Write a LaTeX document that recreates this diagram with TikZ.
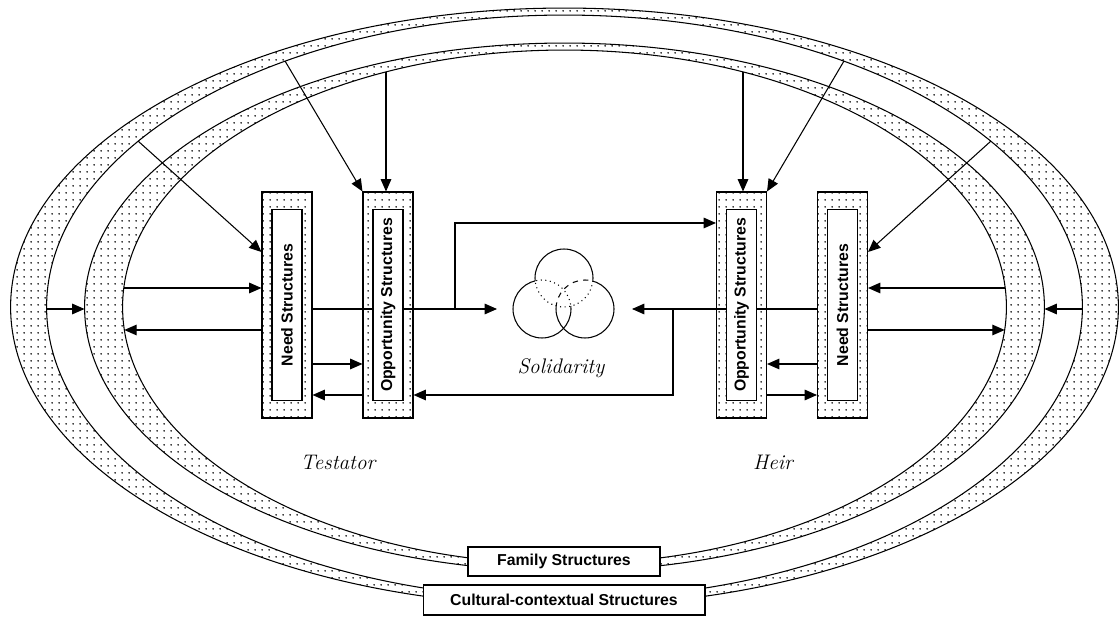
\documentclass[tikz,border=0pt]{standalone}
\usepackage{fontspec}
\newfontfamily\structfont{Liberation Sans}
\usetikzlibrary{arrows.meta,patterns}

\pgfdeclarepatternformonly{sparsedots}{\pgfpointorigin}{\pgfqpoint{4pt}{4pt}}{\pgfqpoint{4pt}{4pt}}{%
  \pgfpathcircle{\pgfqpoint{2pt}{2pt}}{0.55pt}\pgfusepath{fill}}

\tikzset{
  arr/.style={-{Triangle[length=7pt,width=6pt]}},
  band/.style={draw, pattern=sparsedots, minimum width=1cm, minimum height=4.52cm, inner sep=0pt},
  core/.style={draw, fill=white, rotate=90, minimum width=3.82cm, minimum height=0.6cm, inner sep=0pt,
    font=\structfont\bfseries\fontsize{9}{10}\selectfont},
  tag/.style={draw, fill=white, inner sep=0pt, minimum height=0.58cm,
    font=\structfont\bfseries\fontsize{9}{10}\selectfont},
  who/.style={font=\fontsize{12}{14}\selectfont\itshape}
}

\begin{document}
\begin{tikzpicture}[x=0.02cm, y=0.02cm, line width=0.6pt]
\useasboundingbox (0,0) rectangle (1120,616);
\coordinate (rc) at (564.5,309);
% Cultural-contextual ring
\fill[pattern=sparsedots, even odd rule] (rc) ellipse (11.08cm and 5.98cm) (rc) ellipse (10.36cm and 5.84cm);
\draw (rc) ellipse (11.08cm and 5.98cm);
\draw (rc) ellipse (10.36cm and 5.84cm);
% Family ring
\fill[pattern=sparsedots, even odd rule] (rc) ellipse (9.6cm and 5.28cm) (rc) ellipse (8.84cm and 5.14cm);
\draw (rc) ellipse (9.6cm and 5.28cm);
\draw (rc) ellipse (8.84cm and 5.14cm);

% Testator and heir boxes
\node[band] (needL) at (287,311) {};
\node[band] (oppL) at (388,311) {};
\node[band] (oppR) at (741.5,311) {};
\node[band] (needR) at (842.5,311) {};

% points on the rings
\coordinate (s1) at (138,475);
\coordinate (s2) at (285,555);
\coordinate (s3) at (386,544);
\coordinate (t1) at (991,475);
\coordinate (t2) at (844,555);
\coordinate (t3) at (743,544);
\coordinate (dl1) at (123.7,328);
\coordinate (dl2) at (124.3,286);
\coordinate (dr1) at (1005.3,328);
\coordinate (dr2) at (1004.7,286);
\coordinate (bl) at (46.5,307);
\coordinate (cl) at (84.5,307);
\coordinate (br) at (1082.5,307);
\coordinate (cr) at (1044.5,307);
\coordinate (yhit) at (0,364);
\coordinate (ya) at (0,252);
\coordinate (yb) at (0,221);

% from the rings
\draw[arr] (s1) -- (needL.west |- yhit);
\draw[arr] (s2) -- (oppL.north west);
\draw[arr] (s3) -- (s3 |- oppL.north);
\draw[arr] (t1) -- (needR.east |- yhit);
\draw[arr] (t2) -- (oppR.north east);
\draw[arr] (t3) -- (t3 |- oppR.north);
\draw[arr] (dl1) -- (dl1 -| needL.west);
\draw[arr] (dl2 -| needL.west) -- (dl2);
\draw[arr] (dr1) -- (dr1 -| needR.east);
\draw[arr] (dr2 -| needR.east) -- (dr2);
\draw[arr] (bl) -- (cl);
\draw[arr] (br) -- (cr);

% towards solidarity
\coordinate (jl) at (455,307);
\coordinate (ju) at (455,393);
\coordinate (jr) at (673,307);
\coordinate (jd) at (673,221);
\coordinate (solL) at (497,307);
\coordinate (solR) at (632,307);
\draw[arr] (jl -| needL.east) -- (solL);
\draw[arr] (jl) -- (ju) -- (ju -| oppR.west);
\draw[arr] (jr -| needR.west) -- (solR);
\draw[arr] (jr) -- (jd) -- (jd -| oppL.east);

% need <-> opportunity
\draw[arr] (needL.east |- ya) -- (oppL.west |- ya);
\draw[arr] (oppL.west |- yb) -- (needL.east |- yb);
\draw[arr] (needR.west |- ya) -- (oppR.east |- ya);
\draw[arr] (oppR.east |- yb) -- (needR.west |- yb);

\node[core] (needLin) at (needL) {Need Structures};
\node[core] (oppLin) at (oppL) {Opportunity Structures};
\node[core] (oppRin) at (oppR) {Opportunity Structures};
\node[core] (needRin) at (needR) {Need Structures};

% solidarity circles
\coordinate (ct) at (564,338);
\coordinate (cll) at (542,307);
\coordinate (crr) at (585,307);
\begin{scope}
  \clip (0,0) -- (0,616) -- (1120,616) -- (1120,0) -- cycle (cll) circle (0.58cm);
  \clip (0,0) -- (0,616) -- (1120,616) -- (1120,0) -- cycle (crr) circle (0.58cm);
  \draw (ct) circle (0.58cm);
\end{scope}
\begin{scope}
  \clip (cll) circle (0.58cm) (crr) circle (0.58cm);
  \draw[dotted] (ct) circle (0.58cm);
\end{scope}
\begin{scope}
  \clip (0,0) -- (0,616) -- (1120,616) -- (1120,0) -- cycle (ct) circle (0.58cm);
  \draw (cll) circle (0.58cm);
  \draw (crr) circle (0.58cm);
\end{scope}
\begin{scope}
  \clip (ct) circle (0.58cm);
  \draw[dotted] (cll) circle (0.58cm);
  \draw[dashed] (crr) circle (0.58cm);
\end{scope}

\node[who] (solid) at (561,248) {Solidarity};
\node[who] (testator) at (338,154) {Testator};
\node[who] (heir) at (773,154) {Heir};

\node[tag, minimum width=3.84cm] (family) at (564,54.5) {Family Structures};
\node[tag, minimum width=5.64cm, minimum height=0.6cm] (culture) at (564,16) {Cultural-contextual Structures};
\end{tikzpicture}
\end{document}
